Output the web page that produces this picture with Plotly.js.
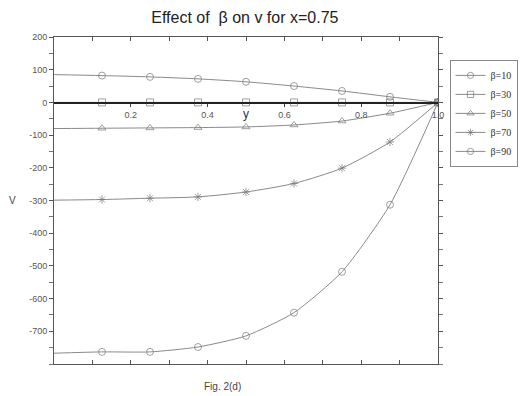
<!DOCTYPE html>
<html><head><meta charset="utf-8">
<script src="https://cdn.plot.ly/plotly-3.0.1.min.js"></script>
<style>html,body{margin:0;padding:0;background:#fff}#c{width:530px;height:396px}</style>
</head><body><div id="c"></div>
<script>
const yPos = [0, 0.125, 0.25, 0.375, 0.5, 0.625, 0.75, 0.875, 1.0];
const seriesNames = ['β=10', 'β=30', 'β=50', 'β=70', 'β=90'];
const vBeta10 = [85, 82, 78, 72, 63, 50, 35, 17, 0];
const vBeta30 = [0, 0, 0, 0, 0, 0, 0, 0, 0];
const vBeta50 = [-80, -79, -78, -77, -75, -69, -57, -33, 0];
const vBeta70 = [-299, -297, -293, -289, -274, -248, -201, -121, 0];
const vBeta90 = [-767, -763, -763, -748, -714, -643, -518, -313, 0];
const xTickVals = [0.2, 0.4, 0.6, 0.8, 1.0];
const xTickText = ['0.2', '0.4', '0.6', '0.8', '1.0'];
const yTickVals = [200, 100, 0, -100, -200, -300, -400, -500, -600, -700];
const yTickText = ['200', '100', '0', '-100', '-200', '-300', '-400', '-500', '-600', '-700'];

const allV = [vBeta10, vBeta30, vBeta50, vBeta70, vBeta90];
const symbols = ['circle-open', 'square-open', 'triangle-up-open', 'asterisk-open', 'circle-open'];
const lineCol = '#8a8a8a';
const traces = allV.map((v, i) => ({
  x: yPos, y: v, name: seriesNames[i], type: 'scatter', mode: 'lines+markers',
  line: {color: lineCol, width: 1, shape: 'spline', smoothing: 0.6},
  marker: {symbol: symbols[i], size: yPos.map((p, k) => k === 0 ? 0 : 7), color: '#777', line: {width: 1}}
}));

const layout = {
  width: 530, height: 396,
  margin: {l: 54, r: 87, t: 37, b: 32},
  paper_bgcolor: '#fff', plot_bgcolor: '#fff',
  title: {text: 'Effect of  β on v for x=0.75', font: {family: 'Liberation Sans, Arial', size: 16, color: '#222'}, x: 0.462, xanchor: 'center', y: 0.955, yanchor: 'middle'},
  showlegend: true,
  legend: {x: 1.03, xanchor: 'left', y: 0.93, yanchor: 'top', bordercolor: '#888', borderwidth: 1,
    font: {family: 'Liberation Serif, Times New Roman', size: 10, color: '#333'}, tracegroupgap: 0, itemwidth: 30},
  xaxis: {range: [0, 1], anchor: 'free', position: 0.8, showline: true, linecolor: '#222', linewidth: 1.5,
    tickvals: xTickVals, ticktext: xTickText, ticks: 'outside', ticklen: 3, tickcolor: '#444',
    tickfont: {family: 'Liberation Sans, Arial', size: 9, color: '#555'}, showgrid: false, zeroline: false},
  xaxis2: {range: [0, 1], overlaying: 'x', anchor: 'y', side: 'bottom', showline: true, mirror: 'ticks',
    linecolor: '#555', linewidth: 1, ticks: 'inside', ticklen: 4, tickcolor: '#555',
    tickvals: [0.1,0.2,0.3,0.4,0.5,0.6,0.7,0.8,0.9], showticklabels: false, showgrid: false, zeroline: false},
  yaxis: {range: [-800, 200], showline: true, mirror: 'allticks', linecolor: '#555', linewidth: 1,
    tickvals: yTickVals, ticktext: yTickText, ticks: 'outside', ticklen: 4, tickcolor: '#555',
    minor: {dtick: 50, ticks: 'outside', ticklen: 2, tickcolor: '#777'},
    tickfont: {family: 'Liberation Sans, Arial', size: 9, color: '#555'}, showgrid: false, zeroline: false},
  annotations: [
    {text: 'y', x: 0.5, y: 0, xref: 'x', yref: 'y', yanchor: 'top', yshift: -3, showarrow: false,
      font: {family: 'Liberation Sans, Arial', size: 12, color: '#333'}},
    {text: 'V', xref: 'paper', yref: 'y', x: 0, y: -300, xanchor: 'right', xshift: -36,
      showarrow: false, font: {family: 'Liberation Sans, Arial', size: 10, color: '#444'}},
    {text: 'Fig. 2(d)', xref: 'paper', yref: 'paper', x: 0.44, y: -0.045, yanchor: 'top', showarrow: false,
      font: {family: 'Liberation Sans, Arial', size: 10, color: '#444'}}
  ]
};
traces.push({x: [], y: [], xaxis: 'x2', showlegend: false, hoverinfo: 'skip'});
Plotly.newPlot('c', traces, layout, {staticPlot: true});
</script></body></html>
